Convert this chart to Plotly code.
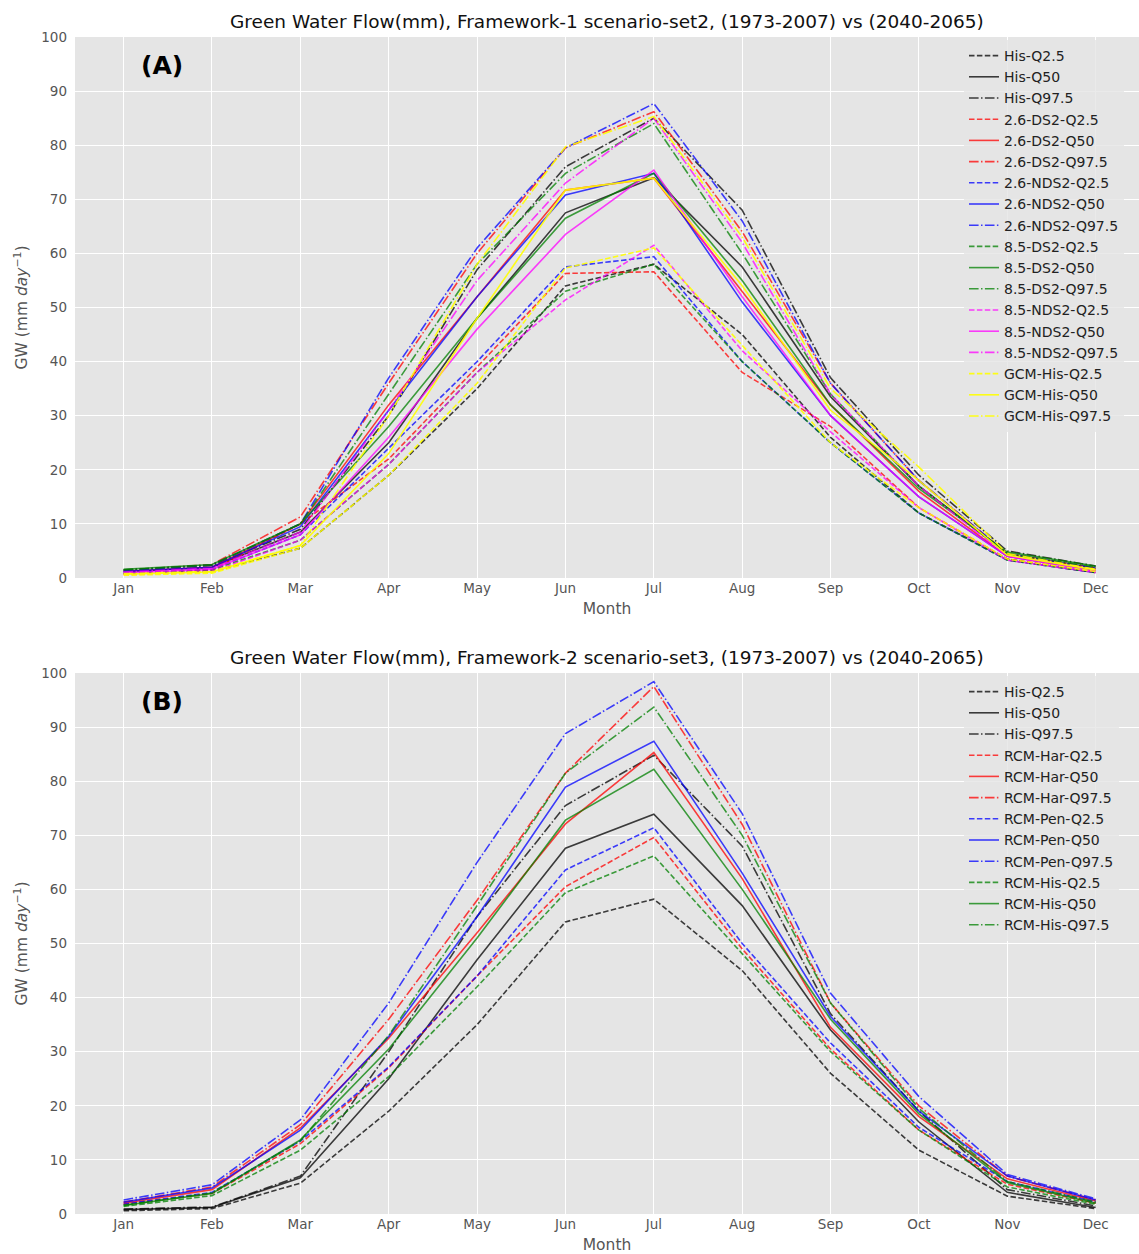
import plotly.graph_objects as go

months = ["Jan", "Feb", "Mar", "Apr", "May", "Jun", "Jul", "Aug", "Sep", "Oct", "Nov", "Dec"]

# ---------------- Panel A data ----------------
a_his_q2 = [0.8, 1.2, 5.5, 19, 35, 54, 58, 45, 26, 12, 3.5, 1.0]
a_his_q50 = [1.2, 2.0, 8.5, 25, 48, 67.5, 74, 57.5, 33.5, 17, 4.5, 1.8]
a_his_q97 = [1.5, 2.3, 9, 30, 57, 76, 85, 68, 37, 19, 5, 2.2]
a_26ds_q2 = [0.8, 1.5, 10, 22, 39, 56.3, 56.6, 38, 28, 13, 3.5, 1.2]
a_26ds_q50 = [1.2, 2.0, 10, 32, 52, 71.7, 73.9, 53, 32, 16, 4, 1.5]
a_26ds_q97 = [1.4, 2.5, 11.3, 36, 60, 79.5, 86.2, 64, 36, 18, 4.5, 1.8]
a_26nds_q2 = [0.9, 1.6, 8, 24, 40, 57.5, 59.4, 40, 25, 12, 3.3, 1.0]
a_26nds_q50 = [1.2, 2.0, 9.5, 31, 52, 70.8, 74.8, 51, 30, 15, 4, 1.5]
a_26nds_q97 = [1.4, 2.4, 10, 37, 61, 79.5, 87.7, 66, 36, 18, 4.5, 1.8]
a_85ds_q2 = [0.8, 1.5, 7, 21, 38, 53, 58, 40, 25, 12, 3.3, 1.0]
a_85ds_q50 = [1.6, 2.5, 10, 28, 48, 66.5, 74.8, 55, 32, 16.5, 4.8, 2.2]
a_85ds_q97 = [1.5, 2.4, 10, 34, 58, 74.8, 84, 60, 34, 17, 4.5, 2.0]
a_85nds_q2 = [0.6, 1.2, 7, 21, 38, 51.4, 61.5, 42, 27, 13, 3.3, 1.0]
a_85nds_q50 = [0.9, 1.6, 8, 26, 46, 63.5, 75.4, 52, 30, 15, 4, 1.2]
a_85nds_q97 = [1.1, 1.8, 8.5, 31, 55, 73, 85, 62, 34, 17, 4, 1.5]
a_gcm_q2 = [0.5, 0.9, 5.5, 19, 36, 57.3, 61, 43, 25, 13, 3.5, 1.2]
a_gcm_q50 = [0.7, 1.1, 6, 23, 48, 71.7, 73.9, 54, 31, 18, 4.2, 1.5]
a_gcm_q97 = [0.8, 1.2, 6, 30, 58, 79.7, 85.3, 63, 35, 20.5, 4.5, 1.6]

# ---------------- Panel B data ----------------
b_his_q2 = [0.6, 1.0, 5.7, 19, 35, 54, 58.2, 45, 26, 11.8, 3.3, 1.0]
b_his_q50 = [0.8, 1.2, 6.7, 25, 47, 67.6, 73.9, 57, 34, 17, 4, 1.2]
b_his_q97 = [0.9, 1.3, 7, 30, 55, 75.5, 84.8, 68, 37, 19, 4.5, 1.5]
b_har_q2 = [1.8, 3.8, 13, 27, 44, 60.5, 69.6, 49, 30.5, 15.5, 5.5, 2.0]
b_har_q50 = [2.0, 4.5, 15.9, 32.5, 52, 72.1, 85.3, 62, 34.5, 18, 6.5, 2.4]
b_har_q97 = [2.2, 5.0, 16.5, 36, 58, 81.5, 97.5, 72, 39, 20, 7, 2.6]
b_pen_q2 = [1.8, 4.0, 13.5, 27.2, 44, 63.6, 71.4, 50, 31.6, 16, 6, 2.2]
b_pen_q50 = [2.2, 4.8, 15.5, 32.8, 55, 78.9, 87.4, 63, 36.5, 19, 7, 2.6]
b_pen_q97 = [2.6, 5.4, 17.4, 39, 65, 88.8, 98.4, 74, 40.8, 21.7, 7.3, 2.8]
b_rhis_q2 = [1.4, 3.4, 11.8, 25.4, 42, 59.4, 66.2, 48, 30, 15.5, 5, 1.8]
b_rhis_q50 = [1.6, 3.8, 13.7, 30.5, 51, 72.8, 82.2, 60, 36, 18.5, 5.8, 2.0]
b_rhis_q97 = [1.6, 3.9, 13.5, 33, 57, 81.5, 93.7, 70, 39, 19.5, 6, 2.2]

y_ticks = [0, 10, 20, 30, 40, 50, 60, 70, 80, 90, 100]

DASH = "5.5px,2.4px"
DASHDOT = "9.6px,2.4px,1.5px,2.4px"
COL = {
    "k": "rgba(0,0,0,0.75)",
    "r": "rgba(255,0,0,0.75)",
    "b": "rgba(0,0,255,0.75)",
    "g": "rgba(0,128,0,0.75)",
    "m": "rgba(255,0,255,0.75)",
    "y": "rgba(255,255,0,0.9)",
}

series_a = [
    ("His-Q2.5", a_his_q2, "k", DASH),
    ("His-Q50", a_his_q50, "k", "solid"),
    ("His-Q97.5", a_his_q97, "k", DASHDOT),
    ("2.6-DS2-Q2.5", a_26ds_q2, "r", DASH),
    ("2.6-DS2-Q50", a_26ds_q50, "r", "solid"),
    ("2.6-DS2-Q97.5", a_26ds_q97, "r", DASHDOT),
    ("2.6-NDS2-Q2.5", a_26nds_q2, "b", DASH),
    ("2.6-NDS2-Q50", a_26nds_q50, "b", "solid"),
    ("2.6-NDS2-Q97.5", a_26nds_q97, "b", DASHDOT),
    ("8.5-DS2-Q2.5", a_85ds_q2, "g", DASH),
    ("8.5-DS2-Q50", a_85ds_q50, "g", "solid"),
    ("8.5-DS2-Q97.5", a_85ds_q97, "g", DASHDOT),
    ("8.5-NDS2-Q2.5", a_85nds_q2, "m", DASH),
    ("8.5-NDS2-Q50", a_85nds_q50, "m", "solid"),
    ("8.5-NDS2-Q97.5", a_85nds_q97, "m", DASHDOT),
    ("GCM-His-Q2.5", a_gcm_q2, "y", DASH),
    ("GCM-His-Q50", a_gcm_q50, "y", "solid"),
    ("GCM-His-Q97.5", a_gcm_q97, "y", DASHDOT),
]

series_b = [
    ("His-Q2.5", b_his_q2, "k", DASH),
    ("His-Q50", b_his_q50, "k", "solid"),
    ("His-Q97.5", b_his_q97, "k", DASHDOT),
    ("RCM-Har-Q2.5", b_har_q2, "r", DASH),
    ("RCM-Har-Q50", b_har_q50, "r", "solid"),
    ("RCM-Har-Q97.5", b_har_q97, "r", DASHDOT),
    ("RCM-Pen-Q2.5", b_pen_q2, "b", DASH),
    ("RCM-Pen-Q50", b_pen_q50, "b", "solid"),
    ("RCM-Pen-Q97.5", b_pen_q97, "b", DASHDOT),
    ("RCM-His-Q2.5", b_rhis_q2, "g", DASH),
    ("RCM-His-Q50", b_rhis_q50, "g", "solid"),
    ("RCM-His-Q97.5", b_rhis_q97, "g", DASHDOT),
]

fig = go.Figure()
for name, vals, c, d in series_a:
    fig.add_trace(go.Scatter(x=months, y=vals, mode="lines", name=name,
                             line=dict(color=COL[c], width=1.6, dash=d),
                             xaxis="x", yaxis="y", legend="legend"))
for name, vals, c, d in series_b:
    fig.add_trace(go.Scatter(x=months, y=vals, mode="lines", name=name,
                             line=dict(color=COL[c], width=1.6, dash=d),
                             xaxis="x2", yaxis="y2", legend="legend2"))

W, H = 1139, 1254
ML, MR, MT, MB = 75, 0, 37, 40
plot_h = H - MT - MB
dA = [(1214 - 578) / plot_h, 1.0]
dB = [0.0, (1214 - 673) / plot_h]

tickfont = dict(family="DejaVu Sans", size=13.5, color="#555555")
titlefont = dict(family="DejaVu Sans", size=15.5, color="#555555")

xcommon = dict(type="category", range=[-0.55, 11.49], showgrid=True, gridcolor="white",
               gridwidth=1.2, zeroline=False, showline=False, ticks="",
               tickfont=tickfont, categoryorder="array", categoryarray=months,
               automargin=False)
ycommon = dict(range=[0, 100], tickvals=y_ticks, showgrid=True, gridcolor="white",
               gridwidth=1.2, zeroline=False, showline=False, ticks="",
               tickfont=tickfont, ticklabelstandoff=7, automargin=False)

ytitle = "GW (mm <i>day</i><sup>−1</sup>)"

fig.update_layout(
    width=W, height=H,
    margin=dict(l=ML, r=MR, t=MT, b=MB, pad=0),
    paper_bgcolor="white",
    plot_bgcolor="#E5E5E5",
    font=dict(family="DejaVu Sans"),
    xaxis=dict(domain=[0, 1], anchor="y",
               title=dict(text="Month", font=titlefont, standoff=8), **xcommon),
    yaxis=dict(domain=dA, anchor="x",
               title=dict(text=ytitle, font=titlefont, standoff=9), **ycommon),
    xaxis2=dict(domain=[0, 1], anchor="y2",
                title=dict(text="Month", font=titlefont, standoff=8), **xcommon),
    yaxis2=dict(domain=dB, anchor="x2",
                title=dict(text=ytitle, font=titlefont, standoff=9), **ycommon),
    legend=dict(x=(964 - ML) / (W - ML), y=(1214 - 40) / plot_h, xanchor="left", yanchor="top",
                bgcolor="rgba(229,229,229,0.8)", font=dict(family="DejaVu Sans", size=14, color="#222"),
                tracegroupgap=0, itemwidth=30),
    legend2=dict(x=(964 - ML) / (W - ML), y=(1214 - 676) / plot_h, xanchor="left", yanchor="top",
                 bgcolor="rgba(229,229,229,0.8)", font=dict(family="DejaVu Sans", size=14, color="#222"),
                 tracegroupgap=0, itemwidth=30),
    showlegend=True,
)

fig.add_annotation(text="Green Water Flow(mm), Framework-1 scenario-set2, (1973-2007) vs (2040-2065)",
                   xref="paper", yref="paper", x=0.5, y=dA[1], yshift=3, xanchor="center", yanchor="bottom",
                   showarrow=False, font=dict(family="DejaVu Sans", size=18.5, color="#111"))
fig.add_annotation(text="Green Water Flow(mm), Framework-2 scenario-set3, (1973-2007) vs (2040-2065)",
                   xref="paper", yref="paper", x=0.5, y=dB[1], yshift=3, xanchor="center", yanchor="bottom",
                   showarrow=False, font=dict(family="DejaVu Sans", size=18.5, color="#111"))
fig.add_annotation(text="<b>(A)</b>", xref="x domain", yref="y domain", x=0.082, y=0.948,
                   xanchor="center", yanchor="middle", showarrow=False,
                   font=dict(family="DejaVu Sans", size=25, color="black"))
fig.add_annotation(text="<b>(B)</b>", xref="x2 domain", yref="y2 domain", x=0.082, y=0.948,
                   xanchor="center", yanchor="middle", showarrow=False,
                   font=dict(family="DejaVu Sans", size=25, color="black"))

fig.write_html("out.html", config={"displayModeBar": False},
               post_script="document.body.style.margin='0';document.body.style.overflow='hidden';")
